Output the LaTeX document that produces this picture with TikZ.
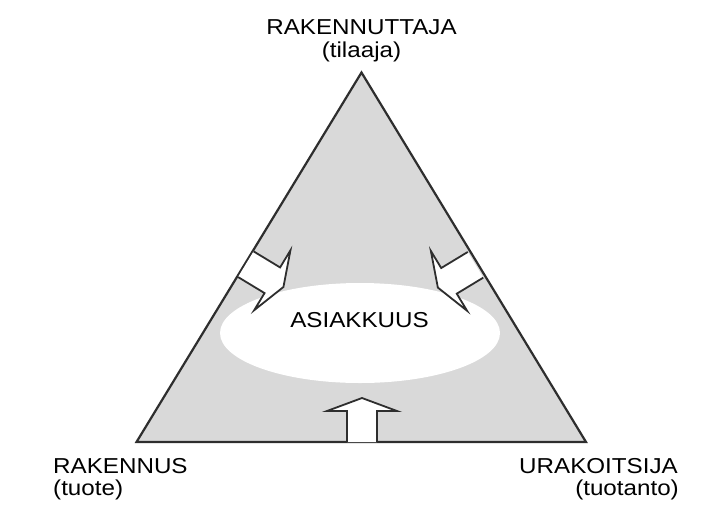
\documentclass[tikz,border=0pt]{standalone}
\usepackage{fontspec}
\usepackage{graphicx}
\usetikzlibrary{shapes.geometric}
\setmainfont{Liberation Sans}
\definecolor{trifill}{HTML}{D9D9D9}
\definecolor{edgecol}{HTML}{2E2E2E}
\newcommand{\wlab}[1]{\scalebox{1.12}[1]{#1}}
\tikzset{
  lab/.style={inner sep=0pt, font=\fontsize{21.6}{22}\selectfont},
  tri/.style={draw=edgecol, line width=2.2pt, fill=trifill, line join=miter},
  blockarrow/.style={draw=edgecol, line width=1.8pt, fill=white, line join=miter},
}
\begin{document}
\begin{tikzpicture}[x=1pt, y=-1pt]
\useasboundingbox (0,0) rectangle (706,525);
% triangle
\coordinate (apex) at (361.5,72.5);
\coordinate (bl) at (136.5,442);
\coordinate (br) at (586,442);
\draw[tri] (apex) -- (bl) -- (br) -- cycle;
% ellipse
\node[ellipse, fill=white, minimum width=280pt, minimum height=100pt, inner sep=0pt] (ell) at (360,333) {};
% block arrows
\foreach \px/\py/\ang/\nm in {245.8/264.2/-31.2/la, 475.5/264.8/211.2/ra, 362/442/90/ba}{
  \begin{scope}[shift={(\px,\py)}, rotate=\ang]
    \draw[blockarrow] (0,15) -- (31,15) -- (31,35) -- (44,0) -- (31,-35) -- (31,-15) -- (0,-15);
  \end{scope}
}
% labels
\node[lab, anchor=base] (top1) at (361.5,34) {\wlab{RAKENNUTTAJA}};
\node[lab, anchor=base] (top2) at (361.5,57) {\wlab{(tilaaja)}};
\node[lab, anchor=base west] (l1) at (53,473) {\wlab{RAKENNUS}};
\node[lab, anchor=base west] (l2) at (53,495) {\wlab{(tuote)}};
\node[lab, anchor=base east] (r1) at (678,473) {\wlab{URAKOITSIJA}};
\node[lab, anchor=base east] (r2) at (679,495) {\wlab{(tuotanto)}};
\node[lab, anchor=base] (mid) at (359.5,327) {\wlab{ASIAKKUUS}};
\end{tikzpicture}
\end{document}
